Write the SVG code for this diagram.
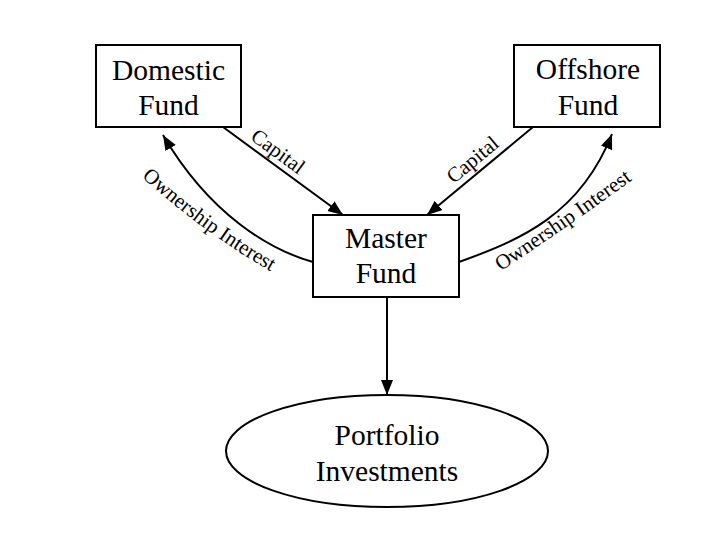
<svg xmlns="http://www.w3.org/2000/svg" width="720" height="540" viewBox="0 0 720 540">
<style>
.box{fill:#fff;stroke:#000;stroke-width:2}
.lbl{font-family:"Liberation Serif","Times New Roman",serif;font-size:29.5px;fill:#000;text-anchor:middle}
.edge{fill:none;stroke:#000;stroke-width:2}
.elbl{font-family:"Liberation Serif","Times New Roman",serif;font-size:21px;fill:#000;text-anchor:middle}
</style>
<defs>
<marker id="arr" markerUnits="userSpaceOnUse" markerWidth="17" markerHeight="13" refX="15" refY="6" orient="auto">
<path d="M0,0 L15,6 L0,12 Z" fill="#000"/>
</marker>
<path id="tpL" d="M134.5,170.6 L145.6,180.5 Q204.9,233 266.2,268.6 L279,276"/>
<path id="tpR" d="M492,277.3 L504.2,269 Q567.5,227 629,182.3 L641,173.6"/>
</defs>
<rect width="720" height="540" fill="#fff"/>
<g id="connectors">
<line class="edge" x1="223" y1="127" x2="343" y2="215" marker-end="url(#arr)"/>
<line class="edge" x1="533" y1="127" x2="427" y2="215" marker-end="url(#arr)"/>
<path class="edge" d="M313,262 C270,250 210,215 163,135" marker-end="url(#arr)"/>
<path class="edge" d="M459,262 C520,240 580,215 612,134" marker-end="url(#arr)"/>
<line class="edge" x1="387" y1="297" x2="387" y2="395" marker-end="url(#arr)"/>
<text class="elbl" transform="translate(274,157) rotate(36.3)">Capital</text>
<text class="elbl" transform="translate(477,165) rotate(-39.7)">Capital</text>
<text class="elbl"><textPath href="#tpL" startOffset="50%">Ownership Interest</textPath></text>
<text class="elbl"><textPath href="#tpR" startOffset="50%">Ownership Interest</textPath></text>
</g>
<g id="domestic">
<rect class="box" x="96" y="45" width="145" height="82"/>
<text class="lbl" x="168.5" y="80">Domestic</text>
<text class="lbl" x="168.5" y="115">Fund</text>
</g>
<g id="offshore">
<rect class="box" x="514" y="45" width="146" height="82"/>
<text class="lbl" x="588" y="79">Offshore</text>
<text class="lbl" x="588" y="115">Fund</text>
</g>
<g id="master">
<rect class="box" x="313" y="215" width="146" height="82"/>
<text class="lbl" x="386" y="248">Master</text>
<text class="lbl" x="386" y="283">Fund</text>
</g>
<g id="portfolio">
<ellipse class="box" cx="387" cy="451" rx="161" ry="56"/>
<text class="lbl" x="387" y="445">Portfolio</text>
<text class="lbl" x="387" y="481">Investments</text>
</g>
</svg>
